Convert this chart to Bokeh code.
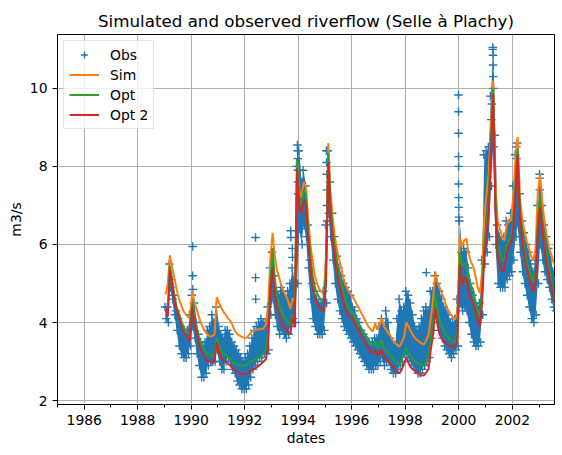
import pandas as pd
from bokeh.plotting import figure
from bokeh.models import Range1d, FixedTicker, DatetimeTickFormatter, Legend, LegendItem
from bokeh.embed import file_html
from bokeh.resources import INLINE

# ---- data (monthly values, Jan 1989 .. Aug 2003) ----
start_month = "1989-01-01"
n_months = 176

sim = [
    4.72, 5.0, 5.72, 5.4, 5.15, 4.85, 4.62, 4.45, 4.3, 4.22, 4.15, 4.12,
    4.82, 4.5, 4.35, 4.15, 3.98, 3.85, 3.76, 3.68, 3.64, 3.65, 3.7, 4.65,
    4.5, 4.38, 4.28, 4.2, 4.12, 4.05, 3.95, 3.8, 3.72, 3.67, 3.64, 3.62,
    3.6, 3.65, 3.72, 3.78, 3.8, 3.82, 3.83, 3.83, 3.85, 3.95, 4.4, 5.6,
    6.3, 5.7, 5.35, 5.15, 4.95, 4.8, 4.7, 4.55, 4.35, 4.62, 4.55, 8.15,
    7.4, 7.2, 7.6, 7.5, 6.7, 6.0, 5.6, 5.2, 5.0, 4.85, 4.78, 4.75,
    5.6, 8.6, 7.4, 6.7, 6.2, 5.85, 5.6, 5.35, 5.1, 4.95, 4.82, 4.72,
    4.66, 4.55, 4.45, 4.35, 4.22, 4.12, 4.0, 3.9, 3.82, 3.77, 3.98, 3.82,
    3.95, 4.12, 3.9, 3.82, 3.72, 3.65, 3.55, 3.48, 3.42, 3.38, 3.5, 3.62,
    4.0, 3.9, 3.78, 3.68, 3.6, 3.55, 3.5, 3.46, 3.44, 3.55, 3.7, 4.1,
    4.6, 5.3, 5.05, 4.9, 4.75, 4.6, 4.42, 4.3, 4.2, 4.13, 4.08, 4.3,
    6.2, 5.95, 6.1, 6.15, 5.75, 5.55, 5.45, 5.2, 4.9, 4.75, 5.3, 6.7,
    7.3, 7.9, 9.0, 10.2, 7.6, 6.6, 6.4, 6.2, 6.1, 6.5, 6.65, 6.6,
    7.2, 8.3, 8.75, 7.2, 6.7, 6.35, 6.1, 5.9, 5.7, 5.6, 5.9, 7.3,
    7.8, 7.1, 6.6, 6.25, 5.95, 5.75, 5.55, 5.45,
]

opt = [
    4.3, 4.3, 5.45, 5.1, 4.7, 4.4, 4.25, 4.05, 3.9, 3.82, 3.75, 3.7,
    4.5, 4.1, 3.9, 3.6, 3.45, 3.34, 3.25, 3.2, 3.17, 3.12, 3.15, 3.6,
    3.4, 3.25, 3.2, 3.17, 3.12, 3.08, 3.0, 2.95, 2.93, 2.91, 2.9, 2.9,
    2.9, 2.95, 3.0, 3.02, 3.05, 3.08, 3.1, 3.15, 3.25, 3.3, 3.7, 5.0,
    5.9, 5.1, 4.7, 4.47, 4.3, 4.15, 4.1, 4.0, 3.96, 4.2, 4.05, 8.2,
    7.1, 7.0, 7.4, 7.3, 6.4, 5.7, 5.2, 4.9, 4.75, 4.64, 4.58, 4.56,
    5.3, 8.35, 7.1, 6.4, 5.9, 5.5, 5.25, 5.0, 4.72, 4.55, 4.4, 4.32,
    4.25, 4.12, 4.02, 3.94, 3.85, 3.75, 3.66, 3.58, 3.48, 3.42, 3.5, 3.36,
    3.4, 3.55, 3.35, 3.28, 3.21, 3.14, 3.08, 3.0, 2.95, 2.91, 3.05, 3.2,
    3.35, 3.22, 3.12, 3.05, 3.0, 2.96, 2.93, 2.9, 2.9, 3.0, 3.11, 3.6,
    4.0, 4.7, 4.3, 4.05, 3.9, 3.78, 3.68, 3.6, 3.55, 3.52, 3.49, 3.8,
    5.8, 5.45, 5.5, 5.5, 5.15, 4.95, 4.85, 4.55, 4.3, 4.1, 4.8, 6.0,
    6.5, 7.2, 8.6, 10.0, 7.2, 6.0, 5.75, 5.6, 5.6, 5.95, 6.1, 6.2,
    6.6, 7.6, 8.45, 6.9, 6.3, 5.9, 5.6, 5.35, 5.15, 5.05, 5.3, 6.6,
    7.2, 6.6, 6.1, 5.7, 5.4, 5.1, 4.8, 4.6,
]

opt2 = [
    4.35, 4.15, 5.35, 5.0, 4.6, 4.3, 4.15, 3.95, 3.78, 3.68, 3.6, 3.52,
    4.4, 3.95, 3.78, 3.45, 3.28, 3.17, 3.08, 3.02, 3.0, 2.95, 3.0, 3.5,
    3.25, 3.08, 3.03, 3.0, 2.95, 2.91, 2.83, 2.78, 2.74, 2.7, 2.68, 2.67,
    2.68, 2.7, 2.75, 2.78, 2.82, 2.85, 2.9, 2.95, 3.0, 3.05, 3.4, 4.8,
    5.4, 4.75, 4.4, 4.2, 4.0, 3.88, 3.85, 3.75, 3.7, 4.13, 3.88, 7.95,
    6.9, 6.8, 7.15, 7.05, 6.2, 5.45, 4.95, 4.64, 4.5, 4.38, 4.32, 4.3,
    5.05, 8.1, 6.85, 6.15, 5.65, 5.25, 5.0, 4.75, 4.45, 4.3, 4.15, 4.18,
    4.12, 3.98, 3.85, 3.77, 3.65, 3.55, 3.45, 3.35, 3.26, 3.21, 3.3, 3.18,
    3.2, 3.3, 3.12, 3.05, 3.0, 2.93, 2.87, 2.8, 2.74, 2.7, 2.8, 2.95,
    3.1, 2.96, 2.86, 2.8, 2.75, 2.72, 2.68, 2.64, 2.65, 2.72, 2.81, 3.3,
    3.7, 4.35, 3.95, 3.7, 3.58, 3.5, 3.45, 3.42, 3.4, 3.38, 3.36, 3.6,
    5.5, 4.95, 5.15, 5.15, 4.8, 4.6, 4.5, 4.3, 4.05, 3.9, 4.55, 5.7,
    6.2, 6.9, 8.3, 9.85, 6.9, 5.7, 5.45, 5.3, 5.35, 5.8, 5.95, 6.05,
    6.4, 7.4, 8.3, 6.7, 6.1, 5.7, 5.4, 5.15, 4.95, 4.8, 5.05, 6.3,
    6.95, 6.4, 5.9, 5.5, 5.2, 4.95, 4.65, 4.45,
]

obs_low = [
    4.1, 4.0, 4.9, 4.6, 4.2, 3.8, 3.4, 3.2, 3.1, 3.1, 3.2, 3.4,
    3.9, 3.6, 3.2, 2.9, 2.6, 2.6, 2.7, 2.9, 3.0, 3.0, 3.0, 3.3,
    3.0, 2.8, 2.8, 3.0, 3.1, 3.0, 2.8, 2.7, 2.5, 2.4, 2.3, 2.3,
    2.3, 2.4, 2.6, 2.8, 2.9, 3.0, 3.1, 3.1, 3.2, 3.2, 3.3, 4.2,
    4.6, 4.2, 3.9, 3.7, 3.8, 3.7, 3.6, 3.7, 3.9, 4.1, 4.0, 5.0,
    6.4, 6.0, 6.5, 6.2, 5.4, 4.6, 4.1, 3.9, 3.7, 3.7, 3.7, 3.8,
    4.5, 6.8, 6.2, 5.6, 5.0, 4.6, 4.3, 4.1, 3.9, 3.8, 3.7, 3.6,
    3.5, 3.4, 3.3, 3.2, 3.1, 3.0, 2.9, 2.8, 2.8, 2.8, 2.9, 2.9,
    3.0, 3.1, 2.9, 3.0, 3.0, 2.8, 2.7, 2.7, 2.8, 2.9, 3.0, 3.2,
    3.2, 3.1, 3.0, 2.9, 2.8, 2.7, 2.7, 2.8, 2.9, 3.0, 3.1, 3.6,
    3.8, 4.2, 4.0, 3.8, 3.6, 3.4, 3.3, 3.2, 3.1, 3.2, 3.3, 3.4,
    4.5, 4.3, 4.4, 4.3, 4.0, 3.7, 3.5, 3.4, 3.4, 3.5, 4.2, 5.5,
    5.8, 6.2, 7.5, 8.5, 6.0, 5.0, 4.9, 4.9, 4.9, 5.1, 5.2, 5.3,
    5.6, 6.2, 6.5, 5.8, 5.3, 5.0, 4.7, 4.4, 4.1, 4.0, 4.2, 5.0,
    6.0, 5.6, 5.3, 5.1, 4.9, 4.6, 4.4, 4.3,
]

obs_high = [
    4.4, 4.4, 5.5, 5.1, 4.7, 4.3, 4.1, 3.9, 3.8, 3.7, 3.8, 4.2,
    4.7, 4.5, 4.0, 3.7, 3.5, 3.4, 3.5, 3.8, 3.9, 4.2, 4.0, 4.4,
    3.9, 3.7, 3.6, 3.8, 3.8, 3.7, 3.5, 3.4, 3.3, 3.2, 3.1, 3.0,
    3.1, 3.2, 3.4, 3.6, 3.8, 3.9, 4.0, 4.1, 4.0, 4.0, 4.4, 5.4,
    5.8, 5.2, 4.8, 4.7, 4.9, 4.8, 4.6, 4.8, 5.0, 5.4, 5.0, 8.0,
    8.4, 7.6, 7.9, 7.5, 6.5, 5.6, 5.0, 4.8, 4.6, 4.5, 4.5, 4.8,
    6.5, 8.4, 7.6, 6.8, 6.2, 5.7, 5.4, 5.2, 5.0, 4.9, 4.8, 4.7,
    4.4, 4.3, 4.1, 4.0, 3.8, 3.7, 3.6, 3.5, 3.4, 3.5, 3.6, 3.6,
    3.9, 4.1, 3.8, 4.3, 4.0, 3.6, 3.5, 3.4, 4.1, 4.6, 4.3, 4.4,
    4.8, 4.7, 4.5, 4.2, 3.9, 3.8, 3.9, 4.1, 4.3, 4.4, 4.3, 4.8,
    4.8, 5.2, 5.0, 4.8, 4.6, 4.4, 4.3, 4.2, 4.0, 4.0, 4.1, 4.6,
    6.6, 5.8, 5.9, 5.8, 5.4, 5.0, 4.7, 4.5, 4.4, 4.5, 5.6, 8.3,
    8.4, 8.5, 9.8, 11.0, 8.8, 6.5, 6.2, 6.1, 6.2, 6.6, 6.5, 6.8,
    7.5, 8.3, 8.6, 7.3, 6.6, 6.3, 6.0, 5.8, 5.5, 5.3, 5.6, 7.0,
    7.8, 7.0, 6.5, 6.2, 5.9, 5.6, 5.3, 5.1,
]

# isolated observed values (flood rises / single days)
obs_extra_dates = [
    "1990-01-20", "1990-01-20", "1990-01-22",
    "1992-05-28", "1992-05-28", "1992-05-30",
    "1993-09-20", "1993-09-22", "1993-10-12", "1993-10-14",
    "1993-12-20", "1993-12-22", "1993-12-24", "1993-12-26", "1993-12-28", "1993-12-30",
    "1995-01-20", "1995-01-22", "1995-01-24", "1995-01-26", "1995-01-28", "1995-01-30",
    "1998-10-15",
    "1999-12-28", "1999-12-28", "1999-12-29", "1999-12-29", "1999-12-30", "1999-12-30",
    "1999-12-31", "2000-01-02", "2000-01-03",
    "2001-04-10", "2001-04-12", "2001-04-14", "2001-04-16", "2001-04-18",
    "2001-03-28", "2001-03-20",
    "2002-02-25", "2002-03-01",
    "2003-01-10", "2003-01-12",
]
obs_extra_values = [
    5.95, 5.2, 4.85,
    6.18, 5.15, 4.6,
    6.35, 6.18, 5.9, 5.67,
    8.55, 8.4, 8.2, 7.9, 7.6, 7.3,
    8.4, 8.1, 7.8, 7.4, 7.0, 6.6,
    5.28,
    9.83, 9.4, 8.85, 8.25, 8.0, 7.55,
    7.2, 6.95, 6.7,
    11.05, 10.85, 10.6, 10.3, 10.0,
    9.6, 9.2,
    8.5, 8.2,
    7.7, 7.4,
]

major_years = [1986, 1988, 1990, 1992, 1994, 1996, 1998, 2000, 2002]
minor_years = list(range(1985, 2004))
y_ticks = [2, 4, 6, 8, 10]

# ---- build ----
months = pd.date_range(start_month, periods=n_months, freq="MS")
mid = months + pd.Timedelta(days=14)
hi_days = months + pd.Timedelta(days=7)
lo_days = months + pd.Timedelta(days=22)
extra_days = pd.to_datetime(obs_extra_dates)

def ms(y):
    return pd.Timestamp(f"{y}-01-01").value / 1e6

FONT = "DejaVu Sans"
C_OBS, C_SIM, C_OPT, C_OPT2 = "#1f77b4", "#ff7f0e", "#2ca02c", "#d62728"

p = figure(width=562, height=455, x_axis_type="datetime",
           output_backend="svg", toolbar_location=None,
           title="Simulated and observed riverflow (Selle à Plachy)",
           x_range=Range1d(pd.Timestamp("1985-01-01"), pd.Timestamp("2003-07-31")),
           y_range=Range1d(1.90, 11.38),
           min_border_left=57, min_border_right=8, min_border_top=34, min_border_bottom=51)

p.title.align = "center"
p.title.text_font = FONT
p.title.text_font_size = "16.7px"
p.title.text_font_style = "normal"
p.title.text_color = "black"
p.title.standoff = 8

p.background_fill_color = "white"
p.border_fill_color = "white"
p.outline_line_color = "black"
p.outline_line_alpha = 1.0
p.outline_line_width = 1

p.xaxis.ticker = FixedTicker(ticks=[ms(y) for y in major_years],
                             minor_ticks=[ms(y) for y in minor_years])
p.xaxis.formatter = DatetimeTickFormatter(
    years="%Y", months="%Y", days="%Y", hours="%Y", hourmin="%Y",
    minutes="%Y", minsec="%Y", seconds="%Y", milliseconds="%Y", microseconds="%Y")
p.yaxis.ticker = FixedTicker(ticks=y_ticks)
p.xaxis.axis_label = "dates"
p.yaxis.axis_label = "m3/s"

for ax in (p.xaxis, p.yaxis):
    ax.axis_line_color = "black"
    ax.major_tick_line_color = "black"
    ax.minor_tick_line_color = "black"
    ax.major_tick_out = 5
    ax.major_tick_in = 0
    ax.minor_tick_in = 0
    ax.major_label_text_font = FONT
    ax.major_label_text_font_size = "13.9px"
    ax.major_label_text_color = "black"
    ax.axis_label_text_font = FONT
    ax.axis_label_text_font_size = "13.9px"
    ax.axis_label_text_font_style = "normal"
    ax.axis_label_text_color = "black"
p.xaxis.minor_tick_out = 3
p.yaxis.minor_tick_out = 0
p.xaxis.major_label_standoff = 5
p.xaxis.axis_label_standoff = 2
p.yaxis.major_label_standoff = 5
p.yaxis.axis_label_standoff = 3

for g in (p.xgrid, p.ygrid):
    g.grid_line_color = "#b0b0b0"
    g.grid_line_width = 1.1

# observed: dense band of daily values plus its edges and isolated days
p.varea(x=mid, y1=obs_low, y2=obs_high, fill_color=C_OBS, fill_alpha=1.0)
r_obs = p.scatter(x=hi_days, y=obs_high, marker="cross", size=8.5,
                  line_color=C_OBS, line_width=1.4)
p.scatter(x=lo_days, y=obs_low, marker="cross", size=8.5,
          line_color=C_OBS, line_width=1.4)
p.scatter(x=extra_days, y=obs_extra_values, marker="cross", size=8.5,
          line_color=C_OBS, line_width=1.4)

r_sim = p.line(x=mid, y=sim, line_color=C_SIM, line_width=2)
r_opt = p.line(x=mid, y=opt, line_color=C_OPT, line_width=2)
r_opt2 = p.line(x=mid, y=opt2, line_color=C_OPT2, line_width=2)

legend = Legend(items=[
    LegendItem(label="Obs", renderers=[r_obs]),
    LegendItem(label="Sim", renderers=[r_sim]),
    LegendItem(label="Opt", renderers=[r_opt]),
    LegendItem(label="Opt 2", renderers=[r_opt2]),
], location="top_left")
legend.margin = 6
legend.padding = 5
legend.spacing = 3
legend.glyph_width = 30
legend.glyph_height = 17
legend.label_height = 17
legend.label_standoff = 11
legend.label_text_font = FONT
legend.label_text_font_size = "13.9px"
legend.label_text_color = "black"
legend.border_line_color = "#cccccc"
legend.border_line_width = 1
legend.background_fill_color = "white"
legend.background_fill_alpha = 0.8
p.add_layout(legend)

open("out.html", "w").write(file_html(p, INLINE))
